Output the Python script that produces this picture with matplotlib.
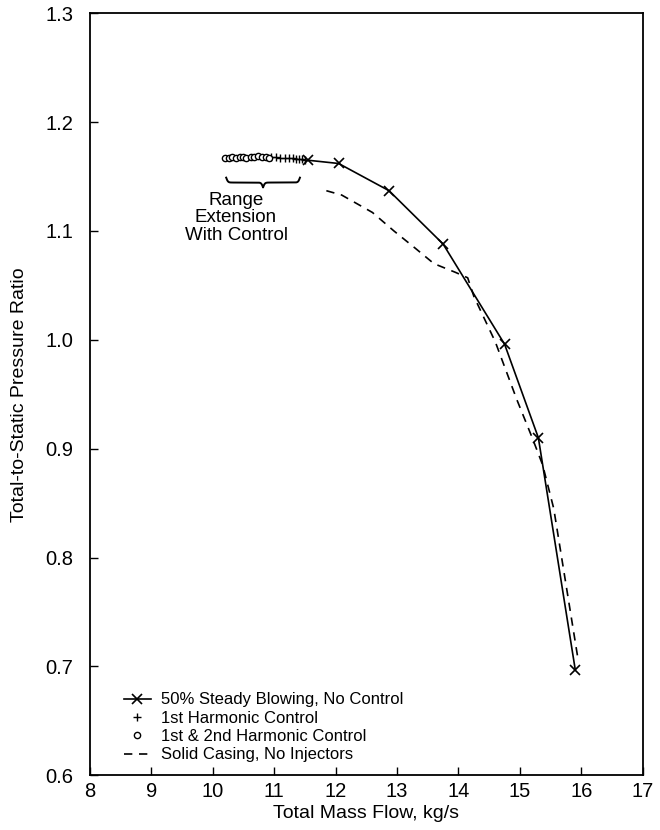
import matplotlib
matplotlib.use("Agg")
import matplotlib.pyplot as plt
import numpy as np

plt.rcParams['font.family'] = ['Liberation Sans', 'DejaVu Sans']

# 50% steady blowing, no control
steady_x = [11.55, 12.05, 12.87, 13.75, 14.75, 15.3, 15.9]
steady_y = [1.165, 1.162, 1.137, 1.088, 0.996, 0.91, 0.697]

# 1st harmonic control
h1_x = [10.95, 11.03, 11.1, 11.17, 11.24, 11.3, 11.35, 11.4, 11.45, 11.5]
h1_y = [1.168, 1.168, 1.167, 1.167, 1.167, 1.167, 1.166, 1.166, 1.166, 1.165]

# 1st & 2nd harmonic control
h12_x = [10.2, 10.26, 10.32, 10.38, 10.45, 10.5, 10.55, 10.62, 10.68, 10.74, 10.8, 10.86, 10.92]
h12_y = [1.167, 1.167, 1.168, 1.167, 1.168, 1.168, 1.167, 1.168, 1.168, 1.169, 1.168, 1.168, 1.167]

# Solid casing, no injectors
solid_x = [11.85, 12.1, 12.6, 12.95, 13.3, 13.6, 13.95, 14.15, 14.25, 14.45, 14.6, 14.95, 15.2, 15.37, 15.55, 15.75, 15.95]
solid_y = [1.137, 1.133, 1.117, 1.10, 1.084, 1.07, 1.062, 1.057, 1.04, 1.016, 0.998, 0.945, 0.91, 0.885, 0.845, 0.775, 0.705]

x_ticks = [8, 9, 10, 11, 12, 13, 14, 15, 16, 17]
y_ticks = [0.6, 0.7, 0.8, 0.9, 1.0, 1.1, 1.2, 1.3]

# brace annotation span (data units)
brace_x0, brace_x1, brace_top, brace_h = 10.22, 11.42, 1.149, 0.009

fig = plt.figure(figsize=(6.6, 8.3), dpi=100)
ax = fig.add_axes([0.136, 0.066, 0.838, 0.918])

ax.plot(steady_x, steady_y, '-', color='black', lw=1.2, marker='x', ms=7, mew=1.2,
        label='50% Steady Blowing, No Control')
ax.plot(h1_x, h1_y, linestyle='none', color='black', marker='+', ms=6, mew=1.0,
        label='1st Harmonic Control')
ax.plot(h12_x, h12_y, linestyle='none', color='black', marker='o', ms=4.5, mew=1.0,
        mfc='white', label='1st & 2nd Harmonic Control')
ax.plot(solid_x, solid_y, '--', color='black', lw=1.2, dashes=(5, 4),
        label='Solid Casing, No Injectors')

# curly brace (downward-pointing) built from sigmoids
res = 301
beta = 70.0
xs = np.linspace(brace_x0, brace_x1, res)
half = xs[:res // 2 + 1]
yh = 1 / (1 + np.exp(-beta * (half - half[0]))) + 1 / (1 + np.exp(-beta * (half - half[-1])))
yb = np.concatenate((yh, yh[-2::-1]))
ax.plot(xs, brace_top - (yb - 0.5) * brace_h, color='black', lw=1.4)

ax.text(10.38, 1.112, 'Range\nExtension\nWith Control', ha='center', va='center',
        fontsize=13.5, linespacing=1.05)

ax.set_xlim(8, 17)
ax.set_ylim(0.6, 1.3)
ax.set_xticks(x_ticks)
ax.set_xticklabels([str(t) for t in x_ticks])
ax.set_yticks(y_ticks)
ax.set_yticklabels([f'{t:.1f}' for t in y_ticks])
ax.tick_params(direction='in', length=6, width=1, labelsize=14.5, color='black')
ax.tick_params(axis='y', pad=12)
ax.tick_params(axis='x', pad=5)
for s in ax.spines.values():
    s.set_linewidth(1.3)

ax.set_xlabel('Total Mass Flow, kg/s', fontsize=14, labelpad=3)
ax.set_ylabel('Total-to-Static Pressure Ratio', fontsize=14, labelpad=12)

leg = ax.legend(loc='lower left', bbox_to_anchor=(0.05, 0.008), frameon=False,
                fontsize=12, handlelength=1.6, handletextpad=0.6, labelspacing=0.2,
                borderaxespad=0)

fig.savefig('out.png', dpi=100)
